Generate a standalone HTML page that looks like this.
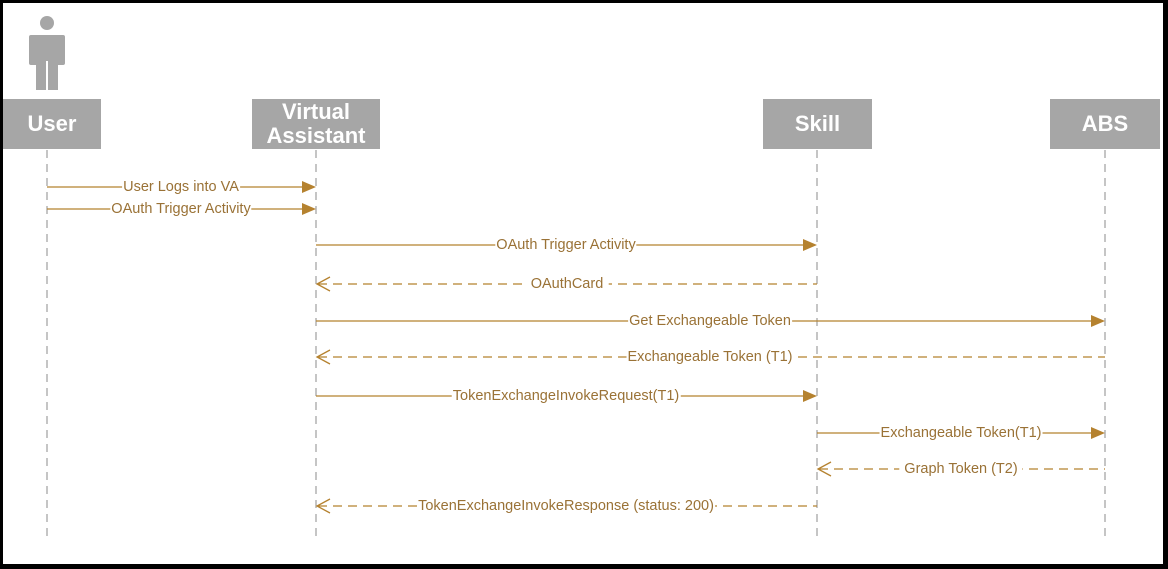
<!DOCTYPE html>
<html><head><meta charset="utf-8"><style>
html,body{margin:0;padding:0}
body{width:1168px;height:569px;background:#000;position:relative;overflow:hidden;font-family:"Liberation Sans",sans-serif}
#w{position:absolute;left:3px;top:3px;width:1160px;height:561px;background:#fff}
.box{position:absolute;background:#a6a6a6;color:#fff;font-weight:bold;font-size:22px;text-align:center;display:flex;align-items:center;justify-content:center;line-height:24px}
.l{position:absolute;transform:translate(-50%,-50%);background:#fff;color:#9a7236;font-size:14.5px;white-space:nowrap;padding:0 1px;line-height:16px}
</style></head><body>
<div id="w"></div>
<svg width="1168" height="569" style="position:absolute;left:0;top:0">
<g fill="#a6a6a6">
<circle cx="47" cy="23" r="7"/>
<rect x="29" y="35" width="36" height="30" rx="2"/>
<rect x="36" y="55" width="22" height="35"/>
</g>
<line x1="47" y1="61" x2="47" y2="90" stroke="#fff" stroke-width="2"/>
<g stroke="#a6a6a6" stroke-width="1.3" stroke-dasharray="8,6">
<line x1="47" y1="150" x2="47" y2="540"/>
<line x1="316" y1="150" x2="316" y2="540"/>
<line x1="817" y1="150" x2="817" y2="540"/>
<line x1="1105" y1="150" x2="1105" y2="540"/>
</g>
<g stroke="#b5822f" stroke-width="1.3" fill="none">
<line x1="47" y1="187" x2="304" y2="187"/>
<line x1="47" y1="209" x2="304" y2="209"/>
<line x1="316" y1="245" x2="805" y2="245"/>
<line x1="316" y1="321" x2="1093" y2="321"/>
<line x1="316" y1="396" x2="805" y2="396"/>
<line x1="817" y1="433" x2="1093" y2="433"/>
<g stroke-dasharray="9,6">
<line x1="318" y1="284" x2="817" y2="284"/>
<line x1="318" y1="357" x2="1105" y2="357"/>
<line x1="819" y1="469" x2="1105" y2="469"/>
<line x1="318" y1="506" x2="817" y2="506"/>
</g>
<polyline points="330,277 317,284 330,291"/>
<polyline points="330,350 317,357 330,364"/>
<polyline points="831,462 818,469 831,476"/>
<polyline points="330,499 317,506 330,513"/>
</g>
<g fill="#b5822f">
<polygon points="302,181 316,187 302,193"/>
<polygon points="302,203 316,209 302,215"/>
<polygon points="803,239 817,245 803,251"/>
<polygon points="1091,315 1105,321 1091,327"/>
<polygon points="803,390 817,396 803,402"/>
<polygon points="1091,427 1105,433 1091,439"/>
</g>
</svg>
<div class="box" style="left:3px;top:99px;width:98px;height:50px">User</div>
<div class="box" style="left:252px;top:99px;width:128px;height:50px">Virtual<br>Assistant</div>
<div class="box" style="left:763px;top:99px;width:109px;height:50px">Skill</div>
<div class="box" style="left:1050px;top:99px;width:110px;height:50px">ABS</div>
<div class="l" style="left:181px;top:187px">User Logs into VA</div>
<div class="l" style="left:181px;top:209px">OAuth Trigger Activity</div>
<div class="l" style="left:566px;top:245px">OAuth Trigger Activity</div>
<div class="l" style="left:567px;top:284px">&nbsp;OAuthCard&nbsp;</div>
<div class="l" style="left:710px;top:321px">Get Exchangeable Token</div>
<div class="l" style="left:710px;top:357px">Exchangeable Token (T1)</div>
<div class="l" style="left:566px;top:396px">TokenExchangeInvokeRequest(T1)</div>
<div class="l" style="left:961px;top:433px">Exchangeable Token(T1)</div>
<div class="l" style="left:961px;top:469px">&nbsp;Graph Token (T2)&nbsp;</div>
<div class="l" style="left:566px;top:506px">TokenExchangeInvokeResponse (status: 200)</div>
</body></html>
